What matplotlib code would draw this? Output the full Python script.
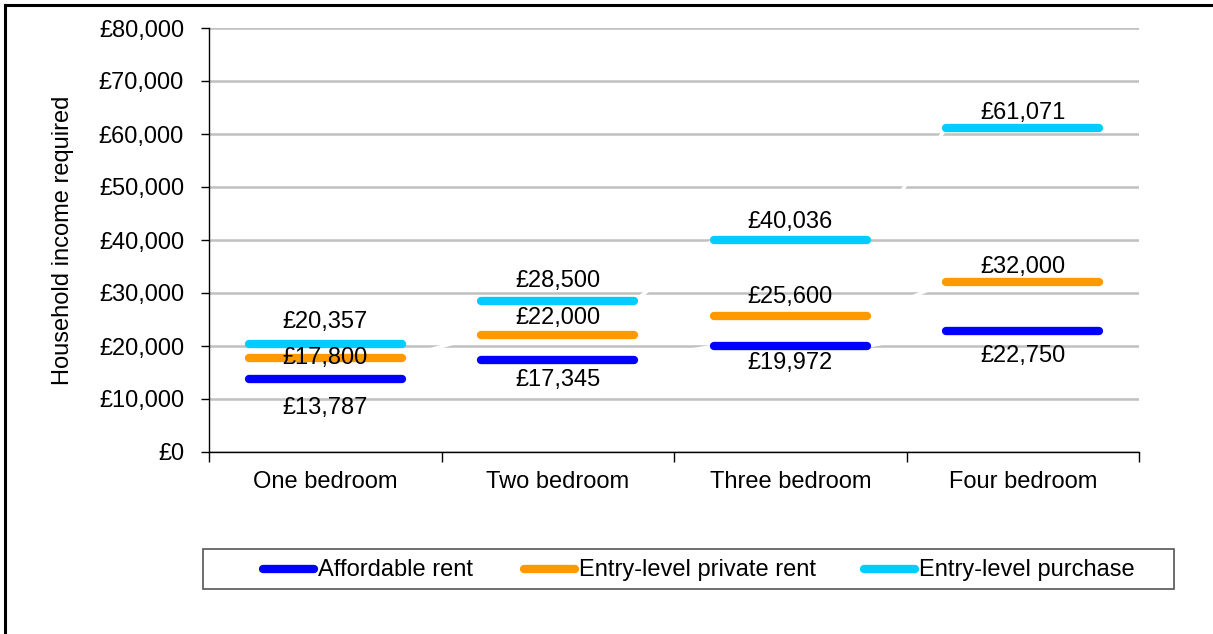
import matplotlib
matplotlib.use("Agg")
import matplotlib.pyplot as plt
from matplotlib.lines import Line2D
from matplotlib.patches import Rectangle
from matplotlib.ticker import FuncFormatter
import numpy as np

categories = ["One bedroom", "Two bedroom", "Three bedroom", "Four bedroom"]
series_names = ["Affordable rent", "Entry-level private rent", "Entry-level purchase"]
affordable_rent = [13787, 17345, 19972, 22750]
private_rent = [17800, 22000, 25600, 32000]
purchase = [20357, 28500, 40036, 61071]
series_values = [affordable_rent, private_rent, purchase]
colors = ["#0000FF", "#FF9900", "#00CCFF"]
# label vertical offsets in pixels (positive = above)
label_offsets = [
    [-29, -20, -17, -25],
    [0, 17, 19, 15],
    [22, 20, 18, 15],
]

W, H = 1213, 634
fig = plt.figure(figsize=(W / 100, H / 100), dpi=100)
plt.rcParams['font.family'] = ['Liberation Sans', 'DejaVu Sans']
FS = 17

ax = fig.add_axes([209 / W, 1 - 452 / H, (1139 - 209) / W, (452 - 28) / H])
ax.set_xlim(-0.5, len(categories) - 0.5)
ax.set_ylim(0, 80000)
ax.set_yticks(np.arange(0, 80001, 10000))
ax.yaxis.set_major_formatter(FuncFormatter(lambda v, p: f"£{int(v):,}"))
ax.grid(axis='y', color='#c0c0c0', linewidth=1.8, zorder=0)
ax.set_axisbelow(True)
for s in ['top', 'right']:
    ax.spines[s].set_visible(False)
for s in ['left', 'bottom']:
    ax.spines[s].set_color('#000000')
    ax.spines[s].set_linewidth(1.0)
ax.tick_params(axis='y', direction='out', length=6, width=1, labelsize=FS, pad=12)
ax.set_xticks(np.arange(len(categories) + 1) - 0.5)
ax.set_xticklabels([])
ax.set_xticks(np.arange(len(categories)), minor=True)
ax.set_xticklabels(categories, minor=True, fontsize=FS)
ax.tick_params(axis='x', which='major', direction='out', length=7, width=1)
ax.tick_params(axis='x', which='minor', length=0, pad=14)
ax.set_ylabel("Household income required", fontsize=FS)
ax.yaxis.set_label_coords((74 - 209) / 930, 0.5)

half = 0.33
for vals, col, offs in zip(series_values, colors, label_offsets):
    # white connector polyline (as in the original line chart)
    xs, ys = [], []
    for i, v in enumerate(vals):
        xs += [i - half, i + half]
        ys += [v, v]
    ax.plot(xs, ys, color='white', lw=2.5, zorder=2, solid_capstyle='butt')
    for i, v in enumerate(vals):
        ax.plot([i - half, i + half], [v, v], color=col, lw=6,
                solid_capstyle='round', zorder=3)
        ax.annotate(f"£{v:,}", (i, v), xytext=(0, offs[i]), textcoords='offset pixels',
                    ha='center', va='center', fontsize=FS, zorder=4)

# legend (drawn manually to match the original box layout)
def px(xp, yp):
    return xp / W, 1 - yp / H

box_x0, box_x1, box_y0, box_y1 = 203, 1174, 549, 589
fig.add_artist(Rectangle(px(box_x0, box_y1), (box_x1 - box_x0) / W, (box_y1 - box_y0) / H,
                         transform=fig.transFigure, facecolor='white',
                         edgecolor='#555555', lw=1.2))
handle_starts = [263, 524, 864]
handle_len = 51
yc = 569
for name, col, hx in zip(series_names, colors, handle_starts):
    x0, y0 = px(hx, yc)
    x1, _ = px(hx + handle_len, yc)
    fig.add_artist(Line2D([x0, x1], [y0, y0], color=col, lw=6,
                          solid_capstyle='round', transform=fig.transFigure))
    tx, ty = px(hx + handle_len + 4, yc + 1)
    fig.text(tx, ty, name, fontsize=FS, ha='left', va='center')

# outer frame (left and top)
fig.add_artist(Line2D([5 / W, 5 / W], [0, 1 - 5 / H], color='black', lw=2.2,
                      transform=fig.transFigure))
fig.add_artist(Line2D([5 / W, 1], [1 - 5 / H, 1 - 5 / H], color='black', lw=2.2,
                      transform=fig.transFigure))

fig.savefig("out.png", dpi=100)
